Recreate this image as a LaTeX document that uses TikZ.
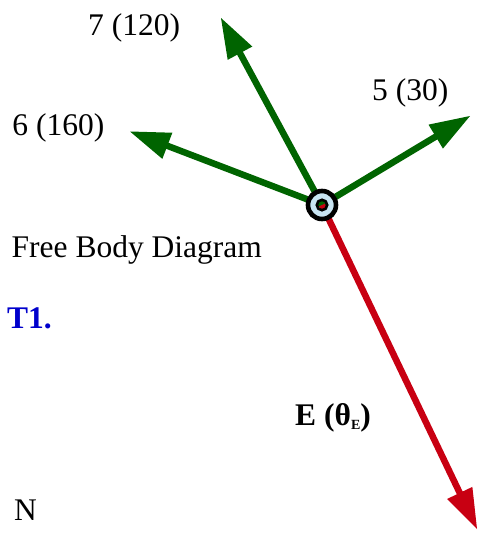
\documentclass[tikz,border=0pt]{standalone}
\usepackage{fontspec}
\setmainfont{Liberation Serif}
\usetikzlibrary{calc}
\definecolor{fgreen}{RGB}{0,100,0}
\definecolor{fred}{RGB}{200,0,18}
\definecolor{fblue}{RGB}{0,0,204}
\definecolor{ringblue}{RGB}{200,228,242}
\begin{document}
\begin{tikzpicture}[x=1pt,y=-1pt,
  shaft/.style={line width=6.5pt},
  lbl/.style={anchor=base west, inner sep=0pt, font=\fontsize{31.5}{36}\selectfont}]
\useasboundingbox (0,0) rectangle (479,533);
\coordinate (c) at (322,205);
\coordinate (t7) at (221,18);
\coordinate (t6) at (130,131.5);
\coordinate (t5) at (470,116);
\coordinate (tE) at (477,529);
\foreach \t/\col in {t7/fgreen, t6/fgreen, t5/fgreen, tE/fred}{
  \coordinate (b) at ($(\t)!40pt!(c)$);
  \draw[shaft, \col] (c) -- ($(\t)!36pt!(c)$);
  \fill[\col] (\t) -- ($(b)!14pt!90:(\t)$) -- ($(b)!14pt!-90:(\t)$) -- cycle;
}
\fill[ringblue, even odd rule] (c) circle (14) (c) circle (5.2);
\draw[line width=4.6pt] (c) circle (14);
\draw[line width=2.6pt] (c) circle (5.2);
\node[lbl] (l7) at (88,35.5) {7 (120)};
\node[lbl] (l6) at (12.3,135) {6 (160)};
\node[lbl] (l5) at (372,100) {5 (30)};
\node[lbl] (fbd) at (11.5,257) {Free Body Diagram};
\node[lbl, text=fblue] (t1) at (7,328) {\bfseries T1.};
\node[lbl] (el) at (295,425) {\bfseries E (θ\raisebox{-4pt}{\fontsize{14}{14}\selectfont E})};
\node[lbl] (n) at (14,520) {N};
\end{tikzpicture}
\end{document}
